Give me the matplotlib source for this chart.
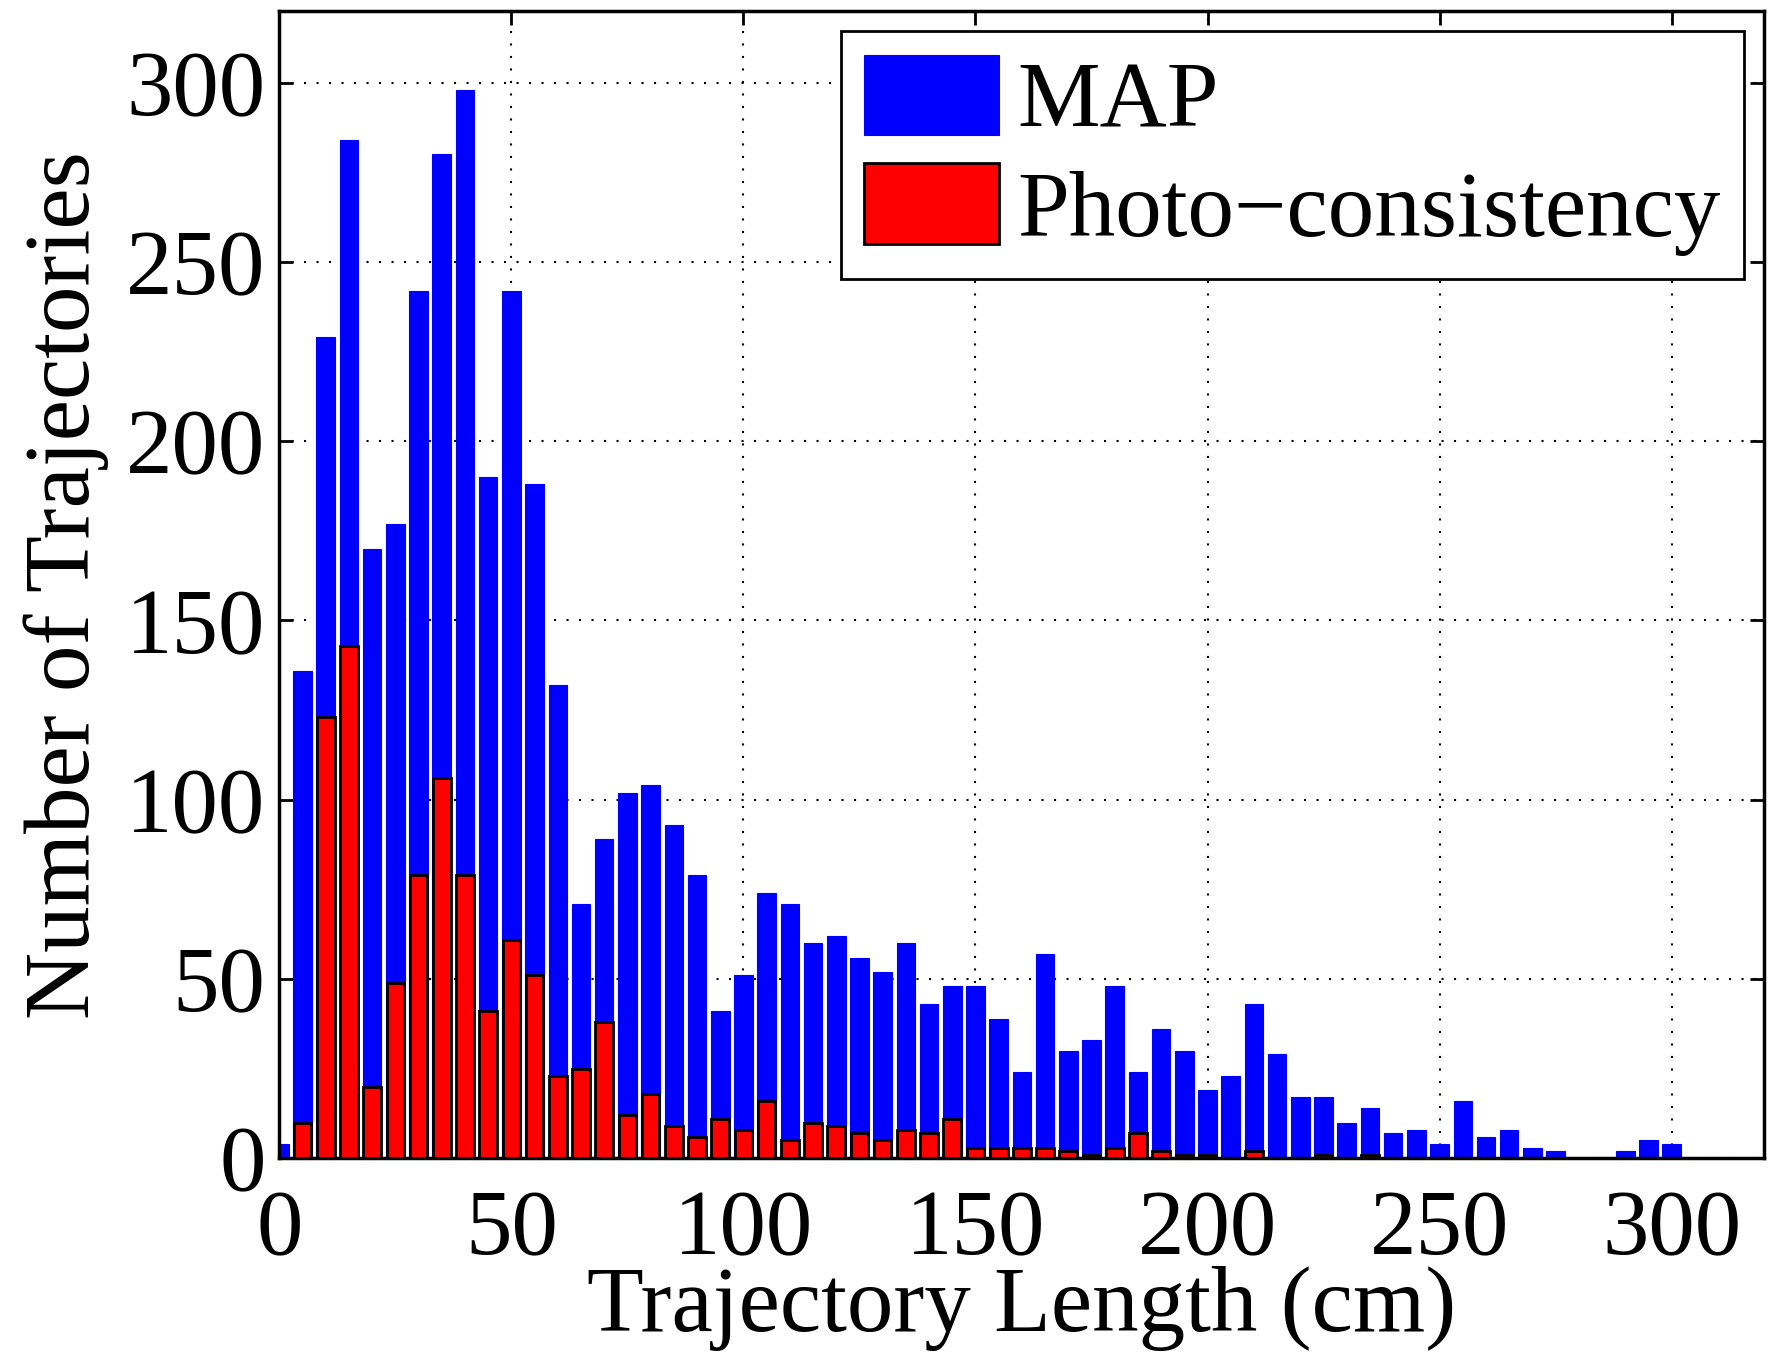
import matplotlib
matplotlib.use("Agg")
import matplotlib.pyplot as plt
import numpy as np

# bin centres (cm), 5 cm bins
lengths = np.arange(0, 305, 5)

map_counts = [
    4, 136, 229, 284, 170, 177, 242, 280, 298, 190,
    242, 188, 132, 71, 89, 102, 104, 93, 79, 41,
    51, 74, 71, 60, 62, 56, 52, 60, 43, 48,
    48, 39, 24, 57, 30, 33, 48, 24, 36, 30,
    19, 23, 43, 29, 17, 17, 10, 14, 7, 8,
    4, 16, 6, 8, 3, 2, 0, 0, 2, 5,
    4,
]
photo_counts = [
    0, 10, 123, 143, 20, 49, 79, 106, 79, 41,
    61, 51, 23, 25, 38, 12, 18, 9, 6, 11,
    8, 16, 5, 10, 9, 7, 5, 8, 7, 11,
    3, 3, 3, 3, 2, 1, 3, 7, 2, 1,
    1, 0, 2, 0, 0, 1, 0, 1, 0, 0,
    0, 0, 0, 0, 0, 0, 0, 0, 0, 0,
    0,
]

FS = 67

plt.rcParams["font.family"] = ["Liberation Serif", "DejaVu Serif"]

fig = plt.figure(figsize=(17.68, 13.58), dpi=100)
ax = fig.add_axes([0.158, 0.147, 0.84, 0.845])

ax.bar(lengths, map_counts, width=4, color="#0000ff", edgecolor="#0000ff",
       linewidth=0.8, label="MAP", zorder=2)
ax.bar(lengths, photo_counts, width=3.8, color="#ff0000", edgecolor="black",
       linewidth=2, label="Photo\u2212consistency", zorder=3)

ax.set_xlim(0, 320)
ax.set_ylim(0, 320)
ax.set_xticks(np.arange(0, 301, 50))
ax.set_yticks(np.arange(0, 301, 50))
ax.grid(True, linestyle=(0, (1, 5)), color="black", linewidth=1.5, zorder=0)
ax.set_axisbelow(True)

ax.tick_params(axis="both", direction="in", length=10, width=2,
               top=True, right=True, labelsize=FS)
ax.tick_params(axis="x", pad=22)
ax.tick_params(axis="y", pad=10)
for s in ax.spines.values():
    s.set_linewidth(2.5)

ax.set_xlabel("Trajectory Length (cm)", fontsize=FS, labelpad=-6)
ax.set_ylabel("Number of Trajectories", fontsize=FS, labelpad=12)

leg = ax.legend(loc="upper right", fontsize=FS, fancybox=False,
                edgecolor="black", framealpha=1, handlelength=1.45,
                handleheight=0.95, handletextpad=0.2, borderpad=0.25,
                labelspacing=0.18, borderaxespad=0.22)
leg.get_frame().set_linewidth(2)

fig.savefig("out.png", dpi=100)
